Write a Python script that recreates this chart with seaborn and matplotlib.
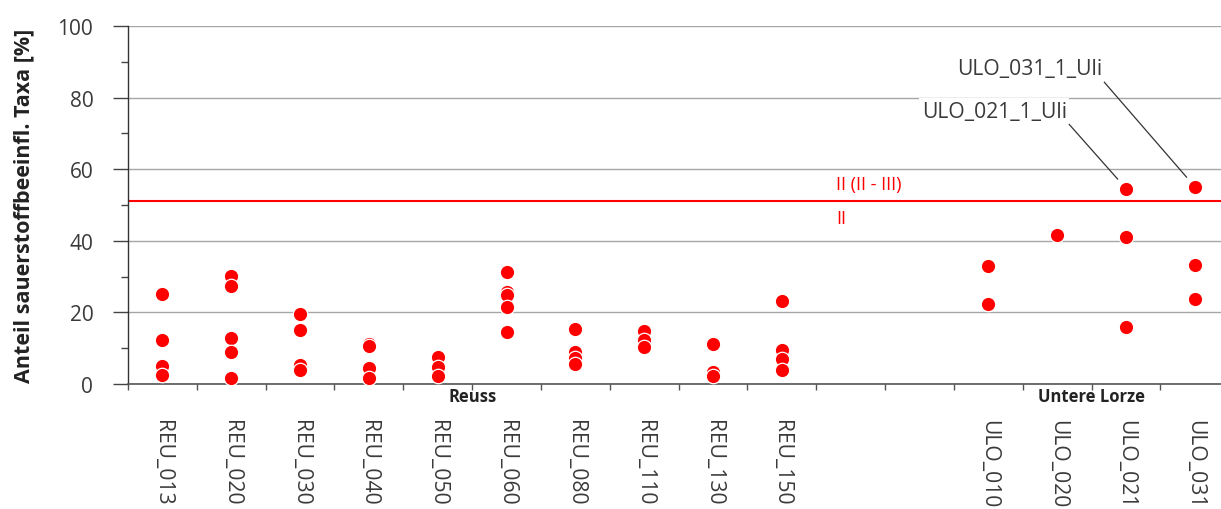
import matplotlib
matplotlib.use("Agg")
import matplotlib.pyplot as plt
import matplotlib.transforms as mtransforms
import seaborn as sns
import pandas as pd
import numpy as np

# ---- data ----
order = ["REU_013", "REU_020", "REU_030", "REU_040", "REU_050", "REU_060",
         "REU_080", "REU_110", "REU_130", "REU_150", "gap_1", "gap_2",
         "ULO_010", "ULO_020", "ULO_021", "ULO_031"]
tick_labels = ["REU_013", "REU_020", "REU_030", "REU_040", "REU_050", "REU_060",
               "REU_080", "REU_110", "REU_130", "REU_150", "", "",
               "ULO_010", "ULO_020", "ULO_021", "ULO_031"]
reu_013 = [25.1, 12.4, 5.1, 2.5]
reu_020 = [30.2, 27.5, 12.8, 9.0, 1.7]
reu_030 = [19.5, 15.1, 5.3, 4.0]
reu_040 = [11.2, 10.6, 4.4, 1.6]
reu_050 = [7.5, 4.8, 2.1]
reu_060 = [31.4, 25.7, 25.0, 21.4, 14.4]
reu_080 = [15.4, 8.8, 7.2, 5.6]
reu_110 = [14.9, 12.3, 10.2]
reu_130 = [11.2, 3.3, 2.1]
reu_150 = [23.1, 9.5, 7.0, 4.0]
ulo_010 = [33.0, 22.3]
ulo_020 = [41.6]
ulo_021 = [54.6, 41.0, 16.0]
ulo_031 = [55.1, 33.2, 23.8]
threshold = 51.0
threshold_labels = ["II (II - III)", "II"]
groups = ["Reuss", "Untere Lorze"]
annotated = [("ULO_021", 54.6, "ULO_021_1_Uli"), ("ULO_031", 55.1, "ULO_031_1_Uli")]

series = {
    "REU_013": reu_013, "REU_020": reu_020, "REU_030": reu_030, "REU_040": reu_040,
    "REU_050": reu_050, "REU_060": reu_060, "REU_080": reu_080, "REU_110": reu_110,
    "REU_130": reu_130, "REU_150": reu_150, "ULO_010": ulo_010, "ULO_020": ulo_020,
    "ULO_021": ulo_021, "ULO_031": ulo_031,
}
df = pd.DataFrame([(k, v) for k, vals in series.items() for v in vals],
                  columns=["site", "value"])

# ---- style ----
sns.set_style("white")
plt.rcParams["font.family"] = ["Open Sans", "DejaVu Sans"]
txt = "#3a3a3a"

fig = plt.figure(figsize=(12.21, 5.10), dpi=100)
ax = fig.add_axes([128 / 1221, 1 - 385 / 510, 1 - 128 / 1221, (385 - 27) / 510])

sns.stripplot(data=df, x="site", y="value", order=order, jitter=False,
              color="#ff0000", edgecolor="white", linewidth=0.9, size=10.4,
              ax=ax, zorder=3, clip_on=False)

XMIN, XMAX = -0.5, 15.38
ax.set_ylim(0, 100)

# grid
ax.set_yticks([0, 20, 40, 60, 80, 100])
ax.set_yticks([10, 30, 50, 70, 90], minor=True)
ax.yaxis.grid(True, which="major", color="#a6a6a6", linewidth=1.0)
ax.xaxis.grid(False)
ax.set_axisbelow(True)

# spines
for s in ["top", "right"]:
    ax.spines[s].set_visible(False)
ax.spines["left"].set_color("#333333")
ax.spines["bottom"].set_color("#555555")
ax.spines["left"].set_linewidth(1.0)
ax.spines["bottom"].set_linewidth(1.2)

# ticks
ax.set_xticks(range(len(order)))
ax.set_xticklabels(tick_labels, rotation=270, fontsize=15.2, color=txt,
                   va="top", ha="center")
ax.set_xticks(np.arange(-0.5, len(order), 1.0), minor=True)
ax.tick_params(axis="x", which="major", length=0, pad=25)
ax.tick_params(axis="x", which="minor", length=4, width=1, color="#555555",
               direction="out", bottom=True)
ax.tick_params(axis="y", which="major", length=11, width=1, color="#444444",
               labelsize=15, labelcolor=txt, pad=14, left=True)
ax.tick_params(axis="y", which="minor", length=5, width=1, color="#444444", left=True)

ax.set_xlabel("")
ax.set_ylabel("Anteil sauerstoffbeeinfl. Taxa [%]", fontsize=15.5, fontweight="bold",
              color="#222222")
ax.yaxis.set_label_coords(-0.086, 0.5)

# threshold line
ax.axhline(threshold, color="#ff0000", linewidth=1.5, zorder=2)
ax.text(9.79, threshold + 4.9, threshold_labels[0], color="#ff0000", fontsize=13,
        ha="left", va="center")
ax.text(9.79, threshold - 4.6, threshold_labels[1], color="#ff0000", fontsize=13,
        ha="left", va="center")

# group labels
trans = mtransforms.blended_transform_factory(ax.transData, ax.transAxes)
ax.text(4.5, -0.034, groups[0], transform=trans, ha="center", va="center",
        fontsize=12, fontweight="bold", color="#222222")
ax.text(13.5, -0.034, groups[1], transform=trans, ha="center", va="center",
        fontsize=12, fontweight="bold", color="#222222")

# annotations
text_pos = {"ULO_021": (13.14, 76.2), "ULO_031": (13.65, 88.0)}
for site, val, label in annotated:
    xi = order.index(site)
    ax.annotate(label, xy=(xi, val), xytext=text_pos[site], textcoords="data",
                ha="right", va="center", fontsize=15.2, color=txt,
                bbox=dict(boxstyle="square,pad=0.12", fc="white", ec="none"),
                arrowprops=dict(arrowstyle="-", color="#333333", lw=0.9,
                                shrinkA=0, shrinkB=9, relpos=(1.0, 0.0)),
                zorder=4)

ax.set_autoscalex_on(False)
ax.set_xlim(XMIN, XMAX)
fig.canvas.draw()
ax.set_xlim(XMIN, XMAX)
fig.savefig("out.png", dpi=100)
